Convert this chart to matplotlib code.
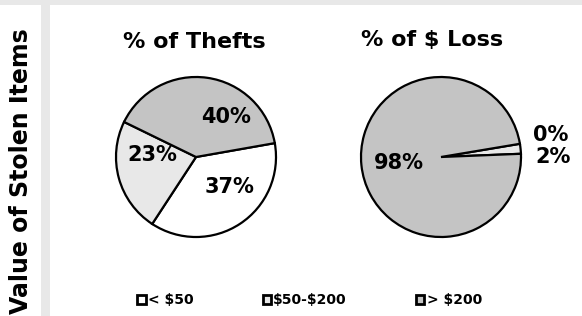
import matplotlib.pyplot as plt
from matplotlib.patches import Rectangle, Patch

categories = ['< $50', '$50-$200', '> $200']
thefts = [37, 23, 40]
loss = [0, 2, 98]
colors = ['white', '#e8e8e8', '#c4c4c4']

W, H = 582, 316

fig = plt.figure(figsize=(W / 100, H / 100), dpi=100)
fig.patch.set_facecolor('white')

# grey frame bits (top band and left strip)
fig.patches.append(Rectangle((0, 1 - 5 / H), 1, 5 / H, transform=fig.transFigure,
                             facecolor='#e8e8e8', edgecolor='none', zorder=0))
fig.patches.append(Rectangle((41 / W, 0), 9 / W, 1 - 5 / H, transform=fig.transFigure,
                             facecolor='#e8e8e8', edgecolor='none', zorder=0))


def pie_axes(cx, cy):
    # 200px square axes, pie radius 1 -> 80px
    return fig.add_axes([(cx - 100) / W, (H - cy - 100) / H, 200 / W, 200 / H])


ax1 = pie_axes(196, 157)
ax2 = pie_axes(441, 157)

wp = dict(edgecolor='black', linewidth=1.6)
ax1.pie(thefts, colors=colors, startangle=10, counterclock=False, wedgeprops=wp)
ax2.pie(loss, colors=colors, startangle=9.5, counterclock=False, wedgeprops=wp)

lab_pos1 = [(0.425, -0.375), (-0.55, 0.025), (0.375, 0.5)]
lab_pos2 = [(1.375, 0.28), (1.4, 0.0), (-0.525, -0.075)]
for ax, vals, pos in [(ax1, thefts, lab_pos1), (ax2, loss, lab_pos2)]:
    for v, (x, y) in zip(vals, pos):
        ax.text(x, y, f'{v}%', ha='center', va='center', fontsize=15, fontweight='bold')

fig.text(194 / W, 1 - 42.5 / H, '% of Thefts', ha='center', va='center',
         fontsize=16, fontweight='bold')
fig.text(432 / W, 1 - 40 / H, r'% of \$ Loss', ha='center', va='center',
         fontsize=16, fontweight='bold')
fig.text(21 / W, 1 - 171 / H, 'Value of Stolen Items', rotation=90, ha='center',
         va='center', fontsize=17, fontweight='bold')

handles = [Patch(facecolor=c, edgecolor='black', linewidth=2) for c in colors]
fig.legend(handles, [c.replace('$', r'\$') for c in categories], ncol=3, loc='center',
           bbox_to_anchor=(309.5 / W, 1 - 300 / H), frameon=False,
           prop=dict(size=10, weight='bold'), handlelength=0.6, handleheight=0.6,
           handletextpad=0.15, columnspacing=5.0)

fig.savefig('out.png', dpi=100)
